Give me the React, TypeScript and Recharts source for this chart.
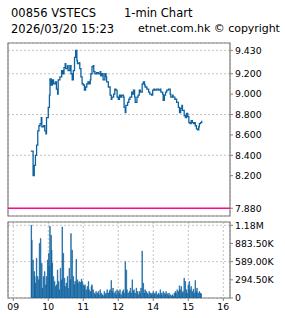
import React from "react";
import {
  ComposedChart,
  LineChart,
  Line,
  Bar,
  XAxis,
  YAxis,
  CartesianGrid,
  ReferenceLine,
  ReferenceArea,
} from "recharts";

// ── Data (minutes since 09:00, lunch hour removed) ───────────────────────────

const priceMinutes = [
  30, 34, 36, 38, 40, 42, 44, 46, 48, 49, 52, 54, 56, 57, 60, 62, 63, 65, 67, 69,
  72, 74, 76, 77, 80, 83, 85, 87, 89, 90, 93, 94, 97, 99, 101, 103, 105, 107, 109, 110,
  113, 114, 116, 118, 120, 122, 124, 126, 128, 130, 132, 133, 135, 137, 138, 140, 143, 146, 149, 150,
  152, 154, 157, 159, 160, 163, 166, 168, 169, 172, 174, 176, 178, 180, 182, 184, 186, 189, 190, 192,
  193, 196, 198, 200, 203, 205, 206, 208, 209, 212, 214, 216, 218, 221, 223, 225, 226, 229, 232, 234,
  237, 239, 241, 243, 246, 249, 252, 253, 256, 257, 259, 261, 263, 266, 269, 270, 273, 274, 277, 280,
  283, 285, 287, 289, 290, 293, 295, 297, 299, 301, 303, 305, 307, 309, 310, 312, 314, 316, 318, 319,
  321, 323,
];

const prices = [
  8.44, 8.2, 8.3, 8.4, 8.5, 8.64, 8.69, 8.71, 8.77, 8.68, 8.69, 8.64, 8.61, 8.77, 8.87, 8.99, 9.15, 9.09, 9.14, 9.1,
  9.12, 9.05, 9.0, 9.14, 9.17, 9.23, 9.2, 9.26, 9.3, 9.25, 9.28, 9.23, 9.28, 9.2, 9.14, 9.23, 9.36, 9.43, 9.33, 9.3,
  9.31, 9.25, 9.17, 9.1, 9.09, 9.04, 9.07, 9.1, 9.12, 9.1, 9.14, 9.2, 9.27, 9.28, 9.22, 9.2, 9.21, 9.2, 9.22, 9.18,
  9.2, 9.14, 9.2, 9.17, 9.12, 9.07, 8.99, 8.95, 8.97, 9.0, 9.05, 9.04, 8.97, 8.95, 8.99, 8.97, 8.99, 8.97, 8.87, 8.82,
  8.89, 8.92, 8.95, 8.97, 9.02, 9.0, 9.04, 8.97, 8.92, 8.97, 8.99, 9.04, 9.02, 9.1, 9.12, 9.09, 9.07, 9.05, 9.02, 9.0,
  8.99, 9.04, 9.05, 9.04, 9.05, 9.04, 9.05, 9.02, 9.0, 8.94, 8.99, 9.02, 9.04, 9.05, 9.0, 8.97, 8.99, 8.97, 8.95, 8.92,
  8.87, 8.82, 8.86, 8.89, 8.84, 8.79, 8.77, 8.81, 8.78, 8.72, 8.71, 8.74, 8.72, 8.71, 8.72, 8.69, 8.66, 8.65, 8.68, 8.71,
  8.72, 8.74,
];

const volMinutes = [
  31, 32, 34, 36, 37, 38, 40, 42, 44, 45, 47, 49, 50, 52, 54, 56, 57, 59, 61, 62,
  63, 65, 66, 67, 69, 71, 73, 74, 76, 78, 79, 81, 83, 84, 86, 88, 89, 91, 93, 94,
  96, 98, 99, 101, 103, 105, 106, 108, 110, 111, 113, 115, 117, 118, 120, 122, 123, 125, 127, 129,
  130, 132, 134, 135, 137, 139, 141, 142, 144, 146, 147, 149, 151, 153, 154, 156, 158, 159, 161, 163,
  165, 166, 168, 170, 171, 173, 175, 177, 178, 180, 182, 183, 185, 187, 189, 190, 192, 194, 195, 197,
  199, 201, 202, 204, 206, 207, 209, 211, 213, 214, 216, 218, 219, 221, 223, 225, 226, 228, 230, 231,
  233, 235, 237, 238, 240, 242, 243, 245, 247, 249, 250, 252, 254, 255, 257, 259, 261, 262, 264, 266,
  267, 269, 271, 273, 274, 276, 278, 279, 281, 283, 285, 286, 288, 290, 291, 293, 295, 297, 298, 300,
  302, 303, 305, 307, 309, 310, 312, 314, 315, 317, 319, 321, 322,
];

// volume in thousands of shares
const volumes = [
  1178, 937, 616, 428, 348, 241, 643, 348, 295, 884, 964, 562, 161, 348, 428, 214, 348, 616, 723, 509,
  1162, 1017, 776, 562, 348, 268, 187, 214, 455, 268, 134, 482, 295, 1151, 723, 321, 187, 241, 348, 161,
  482, 295, 1044, 776, 348, 214, 268, 627, 295, 241, 268, 252, 305, 268, 214, 187, 214, 134, 187, 268,
  134, 107, 187, 214, 134, 80, 54, 107, 80, 107, 54, 134, 80, 54, 37, 107, 54, 80, 134, 80,
  107, 134, 284, 107, 161, 80, 107, 54, 134, 107, 80, 134, 54, 107, 134, 80, 589, 455, 134, 80,
  107, 161, 80, 295, 107, 134, 80, 161, 107, 54, 107, 80, 161, 760, 241, 80, 134, 107, 80, 54,
  107, 80, 54, 80, 107, 54, 80, 107, 54, 80, 54, 134, 80, 54, 107, 80, 54, 107, 70, 37,
  80, 54, 37, 54, 27, 80, 107, 80, 134, 107, 198, 134, 187, 80, 107, 321, 268, 134, 80, 214,
  268, 134, 187, 107, 145, 80, 284, 107, 161, 80, 107, 80, 70,
];

const timeTicks = [0, 60, 120, 180, 240, 300, 360];
const timeLabels = ["09", "10", "11", "12", "14", "15", "16"];
const priceTicks = [7.88, 8.2, 8.4, 8.6, 8.8, 9.0, 9.2, 9.43];
const prevClose = 7.88;
const volTicks = [0, 294.5, 589, 883.5, 1178];

const priceData = priceMinutes.map((t, i) => ({ t, price: prices[i] }));
const volData = volMinutes.map((t, i) => ({ t, vol: volumes[i] }));

// ── Styling ──────────────────────────────────────────────────────────────────

const BLUE = "#0e62a0";
const FRAME = "#808080";
const GRID = "#c4c4c4";
const AXIS_FONT = { fontFamily: "DejaVu Sans", fontSize: 9.3, fill: "#000" };
const X_DOMAIN: [number, number] = [-9, 371.5];
const P_DOMAIN: [number, number] = [7.804, 9.502];
const V_DOMAIN: [number, number] = [0, 1231];

const fmtTime = (v: number) => timeLabels[timeTicks.indexOf(v)] ?? "";
const fmtVol = (v: number) =>
  v === 0 ? "0" : v >= 1000 ? `${(v / 1000).toFixed(2)}M` : `${v.toFixed(2)}K`;

const headerStyle: React.CSSProperties = {
  position: "absolute",
  fontFamily: "DejaVu Sans",
  fontSize: 11.5,
  lineHeight: "12px",
  color: "#000",
  whiteSpace: "nowrap",
};

export default function App() {
  return (
    <div style={{ position: "absolute", left: 0, top: 0, width: 285, height: 318, background: "#fff" }}>
      <span style={{ ...headerStyle, left: 11, top: 6.5 }}>00856 VSTECS</span>
      <span style={{ ...headerStyle, left: 124, top: 6.5 }}>1-min Chart</span>
      <span style={{ ...headerStyle, left: 11, top: 22.5 }}>2026/03/20 15:23</span>
      <span style={{ ...headerStyle, left: 138, top: 22.5, fontSize: 11, letterSpacing: -0.05 }}>
        etnet.com.hk © copyright
      </span>

      {/* price panel */}
      <div style={{ position: "absolute", left: 0, top: 0 }}>
        <LineChart width={285} height={220} data={priceData} margin={{ top: 43, right: 0, bottom: 4, left: 8 }}>
          <CartesianGrid stroke={GRID} strokeDasharray="2 2" />
          <XAxis
            dataKey="t"
            type="number"
            domain={X_DOMAIN}
            ticks={timeTicks}
            height={0}
            tick={false}
            axisLine={false}
            tickLine={false}
            allowDataOverflow
          />
          <YAxis
            orientation="right"
            type="number"
            domain={P_DOMAIN}
            ticks={priceTicks}
            width={55}
            tickSize={3}
            tickMargin={2}
            axisLine={false}
            tickLine={{ stroke: FRAME }}
            tick={{ ...AXIS_FONT, textAnchor: "start" }}
            tickFormatter={(v: number) => v.toFixed(3)}
            allowDataOverflow
          />
          <ReferenceLine y={prevClose} stroke="#ff0a84" strokeWidth={1.5} />
          <ReferenceArea x1={X_DOMAIN[0]} x2={X_DOMAIN[1]} y1={P_DOMAIN[0]} y2={P_DOMAIN[1]} fill="none" stroke={FRAME} strokeWidth={1.2} />
          <Line
            dataKey="price"
            type="stepAfter"
            stroke={BLUE}
            strokeWidth={1.3}
            dot={false}
            isAnimationActive={false}
          />
        </LineChart>
      </div>

      {/* volume panel */}
      <div style={{ position: "absolute", left: 0, top: 0 }}>
        <ComposedChart width={285} height={318} data={volData} margin={{ top: 222, right: 0, bottom: 0, left: 8 }}>
          <CartesianGrid stroke={GRID} strokeDasharray="2 2" />
          <XAxis
            dataKey="t"
            type="number"
            domain={X_DOMAIN}
            ticks={timeTicks}
            height={20}
            tickSize={3}
            tickMargin={2}
            axisLine={false}
            tickLine={{ stroke: FRAME }}
            tick={AXIS_FONT}
            tickFormatter={fmtTime}
            allowDataOverflow
          />
          <YAxis
            orientation="right"
            type="number"
            domain={V_DOMAIN}
            ticks={volTicks}
            width={55}
            tickSize={3}
            tickMargin={2}
            axisLine={false}
            tickLine={{ stroke: FRAME }}
            tick={{ ...AXIS_FONT, textAnchor: "start" }}
            tickFormatter={fmtVol}
            allowDataOverflow
          />
          <Bar dataKey="vol" fill={BLUE} stroke={BLUE} strokeWidth={0.6} barSize={2} isAnimationActive={false} />
          <ReferenceArea x1={X_DOMAIN[0]} x2={X_DOMAIN[1]} y1={V_DOMAIN[0]} y2={V_DOMAIN[1]} fill="none" stroke={FRAME} strokeWidth={1.2} />
        </ComposedChart>
      </div>
    </div>
  );
}
